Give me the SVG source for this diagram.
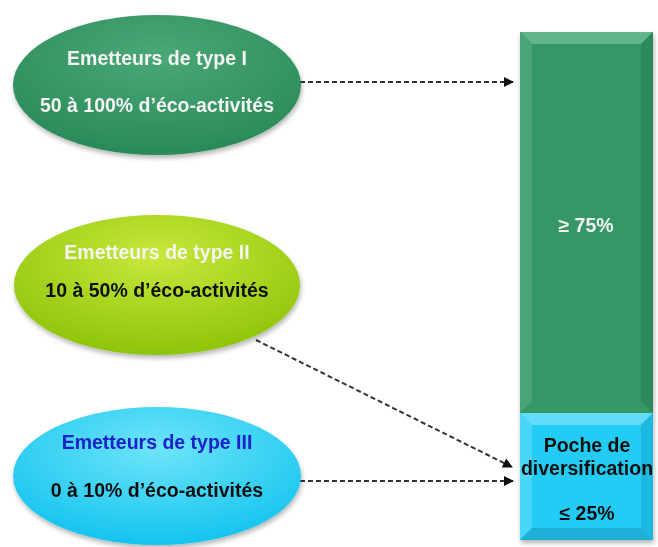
<svg xmlns="http://www.w3.org/2000/svg" width="658" height="547" viewBox="0 0 658 547">
<style>
.t{font-family:"Liberation Sans",Arial,sans-serif;font-weight:bold;font-size:19.5px;text-anchor:middle}
.w{fill:#f4f4f4}
.k{fill:#111}
.b{fill:#1a22c8}
.conn{fill:none;stroke:#333;stroke-width:2;stroke-dasharray:5 3}
</style>
<defs>
<radialGradient id="g1" cx="50%" cy="30%" r="70%">
<stop offset="0" stop-color="#4aa877"/><stop offset="1" stop-color="#2a8a58"/>
</radialGradient>
<radialGradient id="g2" cx="50%" cy="30%" r="70%">
<stop offset="0" stop-color="#c8e83c"/><stop offset="1" stop-color="#8ec40a"/>
</radialGradient>
<radialGradient id="g3" cx="50%" cy="30%" r="70%">
<stop offset="0" stop-color="#6ee4fa"/><stop offset="1" stop-color="#14c4ee"/>
</radialGradient>
<filter id="sh" x="-10%" y="-10%" width="125%" height="130%">
<feGaussianBlur in="SourceAlpha" stdDeviation="2.5"/>
<feOffset dx="1" dy="3" result="o"/>
<feComponentTransfer><feFuncA type="linear" slope="0.3"/></feComponentTransfer>
<feMerge><feMergeNode/><feMergeNode in="SourceGraphic"/></feMerge>
</filter>
<marker id="ah" viewBox="0 0 10 10" refX="9" refY="5" markerWidth="11" markerHeight="10" orient="auto" markerUnits="userSpaceOnUse">
<path d="M0,0 L10,5 L0,10 z" fill="#111"/>
</marker>
</defs>
<rect width="658" height="547" fill="#fff"/>

<g id="bar" filter="url(#sh)">
<rect x="520" y="32" width="133" height="381" fill="#369766"/>
<polygon points="520,32 653,32 641,44 532,44" fill="#62b48a"/>
<polygon points="520,32 532,44 532,401 520,413" fill="#4aa476"/>
<polygon points="653,32 653,413 641,401 641,44" fill="#2f8a5c"/>
<rect x="520" y="413" width="133" height="127" fill="#24ccf4"/>
<polygon points="520,413 653,413 641,425 532,425" fill="#62dcf8"/>
<polygon points="520,413 532,425 532,528 520,540" fill="#48d6f8"/>
<polygon points="653,413 653,540 641,528 641,425" fill="#1cb8e0"/>
<polygon points="520,540 653,540 641,528 532,528" fill="#1ab0d8"/>
<text class="t w" x="586" y="232">≥ 75%</text>
<text class="t k" x="587" y="452">Poche de</text>
<text class="t k" x="587" y="475">diversification</text>
<text class="t k" x="587" y="520">≤ 25%</text>
</g>

<g id="connectors">
<line class="conn" x1="300" y1="82" x2="513" y2="82" marker-end="url(#ah)"/>
<line class="conn" x1="256" y1="340" x2="512" y2="467" marker-end="url(#ah)"/>
<line class="conn" x1="300" y1="481" x2="513" y2="481" marker-end="url(#ah)"/>
</g>

<g id="node1" filter="url(#sh)">
<ellipse cx="157" cy="85" rx="144" ry="70" fill="url(#g1)"/>
<text class="t w" x="157" y="65">Emetteurs de type I</text>
<text class="t w" x="157" y="112">50 à 100% d’éco-activités</text>
</g>

<g id="node2" filter="url(#sh)">
<ellipse cx="157" cy="285" rx="143" ry="70" fill="url(#g2)"/>
<text class="t w" x="157" y="259">Emetteurs de type II</text>
<text class="t k" x="157" y="297">10 à 50% d’éco-activités</text>
</g>

<g id="node3" filter="url(#sh)">
<ellipse cx="157" cy="476" rx="144" ry="69" fill="url(#g3)"/>
<text class="t b" x="157" y="449">Emetteurs de type III</text>
<text class="t k" x="157" y="497">0 à 10% d’éco-activités</text>
</g>
</svg>
